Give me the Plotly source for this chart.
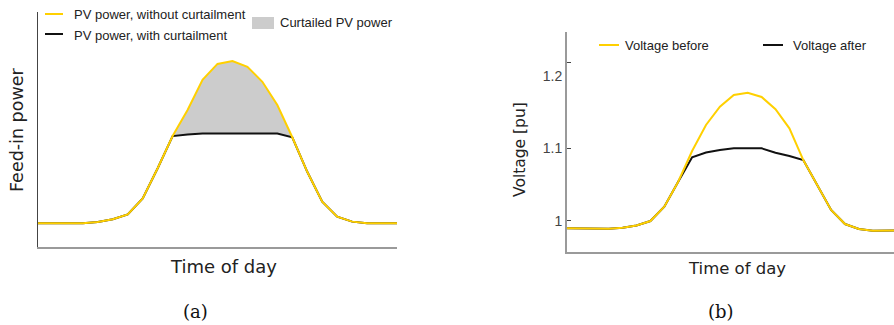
import plotly.graph_objects as go

# ---- data -------------------------------------------------------------
hours = list(range(25))

# (a) feed-in power, arbitrary units (0-100 axis)
pv_without = [10.1, 10.1, 10.1, 10.1, 10.6, 11.8, 13.9, 20.7, 33.5, 47.2,
              58.3, 71.1, 77.9, 79.1, 76.7, 70.3, 60.4, 46.7, 32.0, 19.3,
              12.9, 10.8, 10.1, 10.1, 10.1]
pv_with = [10.1, 10.1, 10.1, 10.1, 10.6, 11.8, 13.9, 20.7, 33.5, 47.2,
           47.9, 48.3, 48.3, 48.3, 48.3, 48.3, 48.3, 46.7, 32.0, 19.3,
           12.9, 10.8, 10.1, 10.1, 10.1]

# (b) voltage in per unit
v_before = [0.9895, 0.9895, 0.9885, 0.9890, 0.9903, 0.9934, 0.9996, 1.0193,
            1.0539, 1.0963, 1.1322, 1.1575, 1.1736, 1.1768, 1.1709, 1.1539,
            1.1276, 1.0838, 1.0493, 1.0148, 0.9954, 0.9885, 0.9862, 0.9862,
            0.9865]
v_after = [0.9895, 0.9895, 0.9885, 0.9890, 0.9903, 0.9934, 0.9996, 1.0193,
           1.0539, 1.0876, 1.0942, 1.0977, 1.1000, 1.1004, 1.1000, 1.0939,
           1.0894, 1.0838, 1.0493, 1.0148, 0.9954, 0.9885, 0.9862, 0.9862,
           0.9865]

v_ticks = [1.0, 1.1, 1.2]
v_tick_text = ["1", "1.1", "1.2"]
v_tick_marks = [1.0, 1.1, 1.219]

YELLOW = "#FFD000"
BLACK = "#111111"
GREY_FILL = "#CCCCCC"

W, H = 894, 325


def px(x):
    return x / W


def py(y):
    return 1 - y / H


fig = go.Figure()

# ---- panel (a) --------------------------------------------------------
fig.add_trace(go.Scatter(x=hours, y=pv_with, mode="lines",
                         line=dict(width=0, color=BLACK),
                         showlegend=False, hoverinfo="skip",
                         xaxis="x", yaxis="y"))
fig.add_trace(go.Scatter(x=hours, y=pv_without, mode="lines",
                         line=dict(width=0, color=YELLOW),
                         fill="tonexty", fillcolor=GREY_FILL,
                         showlegend=False, hoverinfo="skip",
                         xaxis="x", yaxis="y"))
fig.add_trace(go.Scatter(x=hours, y=pv_with, mode="lines",
                         line=dict(width=2, color=BLACK),
                         showlegend=False, xaxis="x", yaxis="y"))
fig.add_trace(go.Scatter(x=hours, y=pv_without, mode="lines",
                         line=dict(width=2, color=YELLOW),
                         showlegend=False, xaxis="x", yaxis="y"))

# ---- panel (b) --------------------------------------------------------
fig.add_trace(go.Scatter(x=hours, y=v_after, mode="lines",
                         line=dict(width=2, color=BLACK),
                         showlegend=False, xaxis="x2", yaxis="y2"))
fig.add_trace(go.Scatter(x=hours, y=v_before, mode="lines",
                         line=dict(width=2, color=YELLOW),
                         showlegend=False, xaxis="x2", yaxis="y2"))

v_range = [0.9568, 1.2606]

fig.update_layout(
    width=W, height=H,
    margin=dict(l=0, r=0, t=0, b=0),
    paper_bgcolor="white", plot_bgcolor="white",
    showlegend=False,
    xaxis=dict(domain=[px(38), px(397)], range=[0, 24],
               showline=True, linecolor="#9a9a9a", linewidth=2,
               showgrid=False, zeroline=False, showticklabels=False,
               ticks=""),
    yaxis=dict(domain=[py(247), py(12)], range=[0, 100],
               showline=True, linecolor="#444444", linewidth=1,
               showgrid=False, zeroline=False, showticklabels=False,
               ticks=""),
    xaxis2=dict(domain=[px(567), 1.0], range=[0, (894 - 567) / 13.9],
                anchor="y2",
                showline=True, linecolor="#9a9a9a", linewidth=2,
                showgrid=False, zeroline=False, showticklabels=False,
                ticks=""),
    yaxis2=dict(domain=[py(252), py(32)], range=v_range, anchor="x2",
                showline=True, linecolor="#9a9a9a", linewidth=2,
                showgrid=False, zeroline=False,
                tickvals=v_ticks, ticktext=v_tick_text, ticks="",
                tickfont=dict(family="Liberation Sans, Arial", size=14,
                              color="#444444"),
                minor=dict(tickvals=v_tick_marks, ticks="inside",
                           ticklen=4, tickwidth=1.2, tickcolor="#444444",
                           showgrid=False)),
)

shapes = []
annotations = []

legend_font = dict(family="Liberation Sans, Arial", size=13, color="#222222")
title_font = dict(family="DejaVu Sans, Verdana", size=18, color="#222222")

# legend (a)
shapes.append(dict(type="line", xref="paper", yref="paper",
                   x0=px(45), x1=px(63), y0=py(14), y1=py(14),
                   line=dict(color=YELLOW, width=2)))
annotations.append(dict(xref="paper", yref="paper", x=px(72), y=py(14),
                        xanchor="left", yanchor="middle", showarrow=False,
                        text="PV power, without curtailment", font=legend_font))
shapes.append(dict(type="line", xref="paper", yref="paper",
                   x0=px(45), x1=px(63), y0=py(34), y1=py(34),
                   line=dict(color=BLACK, width=2)))
annotations.append(dict(xref="paper", yref="paper", x=px(72), y=py(35),
                        xanchor="left", yanchor="middle", showarrow=False,
                        text="PV power, with curtailment", font=legend_font))
shapes.append(dict(type="rect", xref="paper", yref="paper",
                   x0=px(252), x1=px(274), y0=py(29), y1=py(17),
                   fillcolor=GREY_FILL, line=dict(width=0)))
annotations.append(dict(xref="paper", yref="paper", x=px(278), y=py(22),
                        xanchor="left", yanchor="middle", showarrow=False,
                        text="Curtailed PV power", font=legend_font))

# legend (b)
shapes.append(dict(type="line", xref="paper", yref="paper",
                   x0=px(599), x1=px(619), y0=py(45), y1=py(45),
                   line=dict(color=YELLOW, width=2)))
annotations.append(dict(xref="paper", yref="paper", x=px(623), y=py(46),
                        xanchor="left", yanchor="middle", showarrow=False,
                        text="Voltage before", font=legend_font))
shapes.append(dict(type="line", xref="paper", yref="paper",
                   x0=px(763), x1=px(783), y0=py(45), y1=py(45),
                   line=dict(color=BLACK, width=2)))
annotations.append(dict(xref="paper", yref="paper", x=px(791), y=py(46),
                        xanchor="left", yanchor="middle", showarrow=False,
                        text="Voltage after", font=legend_font))

# axis titles
annotations.append(dict(xref="paper", yref="paper", x=px(223), y=py(266),
                        xanchor="center", yanchor="middle", showarrow=False,
                        text="Time of day", font=title_font))
annotations.append(dict(xref="paper", yref="paper", x=px(17), y=py(130),
                        xanchor="center", yanchor="middle", showarrow=False,
                        textangle=-90, text="Feed-in power",
                        font=dict(family="DejaVu Sans, Verdana", size=17.5,
                                  color="#222222")))
annotations.append(dict(xref="paper", yref="paper", x=px(737), y=py(268),
                        xanchor="center", yanchor="middle", showarrow=False,
                        text="Time of day",
                        font=dict(family="DejaVu Sans, Verdana", size=16.5,
                                  color="#222222")))
annotations.append(dict(xref="paper", yref="paper", x=px(520), y=py(150),
                        xanchor="center", yanchor="middle", showarrow=False,
                        textangle=-90, text="Voltage [pu]",
                        font=dict(family="DejaVu Sans, Verdana", size=15.5,
                                  color="#222222")))

# sub-figure captions
caption_font = dict(family="DejaVu Serif, serif", size=18, color="#111111")
annotations.append(dict(xref="paper", yref="paper", x=px(195), y=py(311),
                        xanchor="center", yanchor="middle", showarrow=False,
                        text="(a)", font=caption_font))
annotations.append(dict(xref="paper", yref="paper", x=px(721), y=py(311),
                        xanchor="center", yanchor="middle", showarrow=False,
                        text="(b)", font=caption_font))

fig.update_layout(shapes=shapes, annotations=annotations)

fig.write_html("out.html")
